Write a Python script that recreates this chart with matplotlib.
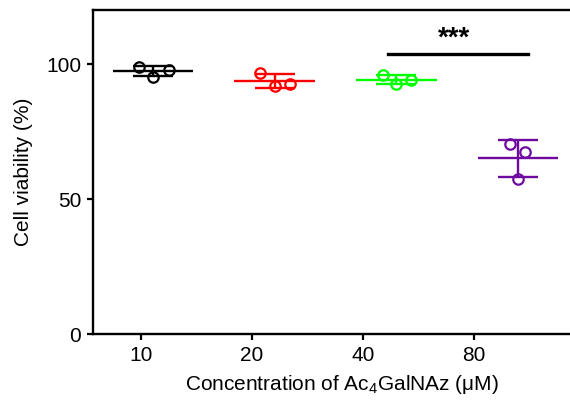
import matplotlib
matplotlib.use('Agg')
import matplotlib.pyplot as plt
import numpy as np

plt.rcParams['font.family'] = ['Liberation Sans', 'DejaVu Sans']
plt.rcParams['mathtext.fontset'] = 'custom'
plt.rcParams['mathtext.rm'] = 'Liberation Sans'
plt.rcParams['mathtext.it'] = 'Liberation Sans:italic'

# data (% viability, three replicates per concentration)
concentrations = ['10', '20', '40', '80']
viability_10 = [98.9, 95.3, 98.0]
viability_20 = [96.8, 91.9, 92.7]
viability_40 = [96.0, 92.8, 94.0]
viability_80 = [70.6, 67.5, 57.4]
groups = [viability_10, viability_20, viability_40, viability_80]
colors = ['black', '#ff0000', '#00ff00', '#6e0aa0']

# horizontal spread of replicate points inside each group
jitter = [[-0.115, 0.0, 0.13], [-0.12, 0.0, 0.125], [-0.11, 0.0, 0.12], [-0.07, 0.06, 0.0]]
tick_pos = [-0.101, 0.811, 1.728, 2.637]

fig = plt.figure(figsize=(5.7, 4.05), dpi=100)
ax = fig.add_axes([0.163, 0.175, 0.874, 0.8])

for i, (vals, c) in enumerate(zip(groups, colors)):
    vals = np.array(vals)
    m = vals.mean()
    sd = vals.std(ddof=1)
    ax.hlines(m, i - 0.33, i + 0.33, color=c, lw=1.7, zorder=2)
    ax.hlines([m - sd, m + sd], i - 0.165, i + 0.165, color=c, lw=1.7, zorder=2)
    ax.vlines(i, m - sd, m + sd, color=c, lw=1.7, zorder=2)
    ax.plot(i + np.array(jitter[i]), vals, 'o', mfc='none', mec=c, ms=7.5, mew=1.6, zorder=3)

# significance bar between 40 and 80
ax.plot([1.93, 3.08], [103.7, 103.7], color='black', lw=2.4)
ax.text(2.47, 104.8, '***', ha='center', va='bottom', fontsize=20, fontweight='bold')

ax.set_xlim(-0.493, 3.6)
ax.set_ylim(0, 120)
ax.set_xticks(tick_pos)
ax.set_xticklabels(concentrations)
ax.set_yticks([0, 50, 100])
ax.tick_params(labelsize=15, width=1.6, length=4.5, pad=4)
for s in ax.spines.values():
    s.set_linewidth(1.7)

ax.set_xlabel('Concentration of Ac$_4$GalNAz (μM)', fontsize=15, labelpad=6)
ax.set_ylabel('Cell viability (%)', fontsize=15, labelpad=9)

fig.savefig('out.png', dpi=100)
